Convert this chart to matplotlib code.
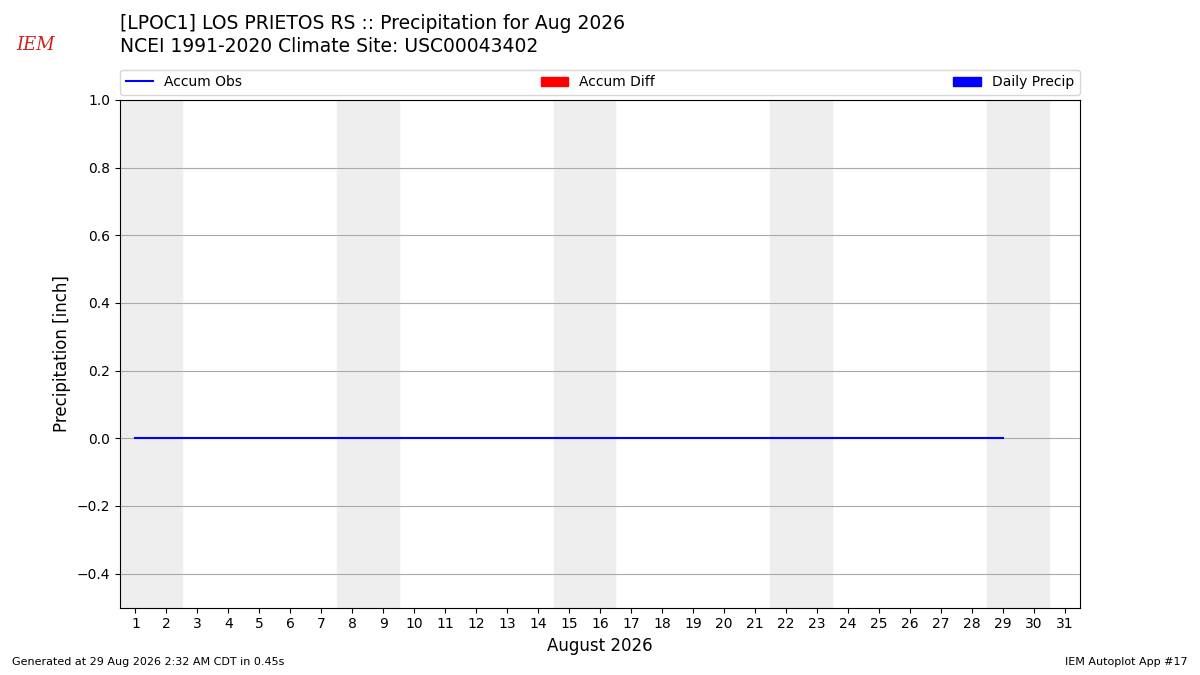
import numpy as np
import matplotlib
matplotlib.use("Agg")
import matplotlib.pyplot as plt
from matplotlib.patches import Patch
from matplotlib.lines import Line2D

# data
days = list(range(1, 30))
accum_obs = [0.0] * len(days)
weekend_starts = [1, 8, 15, 22, 29]
title = "[LPOC1] LOS PRIETOS RS :: Precipitation for Aug 2026\nNCEI 1991-2020 Climate Site: USC00043402"

fig = plt.figure(figsize=(12, 6.75), dpi=100)
ax = fig.add_axes([0.1, 0.1, 0.8, 0.752])

for d in weekend_starts:
    ax.axvspan(d - 0.5, d + 1.5, color="#eeeeee", zorder=0)

ax.plot(days, accum_obs, color="b", lw=1.5, zorder=3)

ax.set_xlim(0.5, 31.5)
ax.set_ylim(-0.5, 1.0)
ax.set_xticks(range(1, 32))
ax.set_yticks(np.arange(-0.4, 1.01, 0.2))
ax.grid(True, axis="y", color="#aaaaaa", lw=0.8)
ax.set_axisbelow(True)
ax.set_xlabel("August 2026", fontsize=12)
ax.set_ylabel("Precipitation [inch]", fontsize=12)

handles = [Line2D([], [], color="b", lw=1.5), Patch(color="r"), Patch(color="b")]
ax.legend(handles, ["Accum Obs", "Accum Diff", "Daily Precip"], ncol=3,
          mode="expand", loc="lower left", bbox_to_anchor=(0, 1.01, 1, 0.05),
          fontsize=10, borderaxespad=0, borderpad=0.4, handletextpad=0.8)

fig.text(0.1, 0.948, title, fontsize=13.5, va="center", ha="left", linespacing=1.3)
fig.text(0.03, 0.933, "IEM", color="#cc2222", fontsize=13, style="italic",
         family="serif", ha="center", va="center")
fig.text(0.01, 0.015, "Generated at 29 Aug 2026 2:32 AM CDT in 0.45s", fontsize=8)
fig.text(0.99, 0.015, "IEM Autoplot App #17", fontsize=8, ha="right")

fig.savefig("out.png")
